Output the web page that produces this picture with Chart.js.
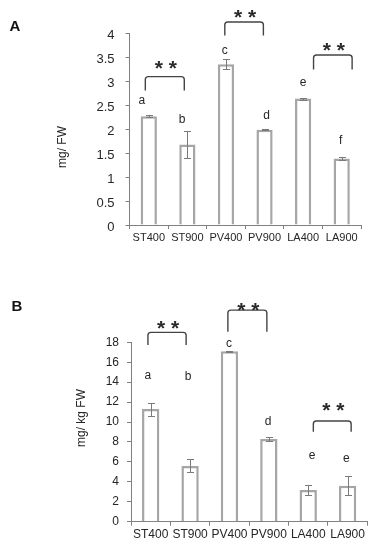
<!DOCTYPE html>
<html>
<head>
<meta charset="utf-8">
<script src="https://cdn.jsdelivr.net/npm/chart.js@4"></script>
<style>
html,body{margin:0;padding:0;background:#fff;}
#wrap{position:relative;width:376px;height:550px;overflow:hidden;}
canvas{position:absolute;left:0;}
</style>
</head>
<body>
<div id="wrap">
<canvas id="ca" width="376" height="265" style="top:0"></canvas>
<canvas id="cb" width="376" height="285" style="top:265px"></canvas>
</div>
<script>
// ---------- data ----------
const categories = ['ST400','ST900','PV400','PV900','LA400','LA900'];

// Panel A (mg/ FW)
const valuesA = [2.27, 1.68, 3.36, 1.99, 2.64, 1.39];
const errorsA = [0.02, 0.28, 0.10, 0.01, 0.02, 0.03];
const lettersA = ['a','b','c','d','e','f'];
const letterXA = [-0.18, 0.86, 1.97, 3.05, 4.0, 4.97];
const letterYA = [2.59, 2.21, 3.65, 2.28, 2.97, 1.77];
// [from, to, top, bottom, starsY]
const bracketsA = [
  [-0.09, 0.92, 3.10, 2.81, 3.39],
  [1.97, 2.97, 4.24, 3.96, 4.45],
  [4.27, 5.27, 3.55, 3.25, 3.77]
];
const yTicksA = [0, 0.5, 1, 1.5, 2, 2.5, 3, 3.5, 4];

// Panel B (mg/ kg FW)
const valuesB = [11.3, 5.6, 17.1, 8.29, 3.19, 3.6];
const errorsB = [0.65, 0.65, 0.05, 0.2, 0.5, 0.95];
const lettersB = ['a','b','c','d','e','e'];
const letterXB = [-0.07, 0.95, 1.99, 2.98, 4.1, 4.97];
const letterYB = [14.66, 14.5, 17.85, 10.06, 6.6, 6.36];
const bracketsB = [
  [-0.07, 0.9, 19.0, 17.73, 19.96],
  [1.96, 2.95, 21.23, 19.06, 21.74],
  [4.13, 5.09, 10.1, 9.03, 11.7]
];
const yTicksB = [0, 2, 4, 6, 8, 10, 12, 14, 16, 18];

// ---------- drawing ----------
const FONT = "'Liberation Sans', Arial, Helvetica, sans-serif";
const AXIS = '#808080';
const TEXT = '#262626';

function annotPlugin(cfg){
  return {
    id: 'annot',
    afterDatasetsDraw(chart){
      const ctx = chart.ctx, xs = chart.scales.x, ys = chart.scales.y;
      ctx.save();
      // error bars
      ctx.strokeStyle = '#7a7a7a';
      ctx.lineWidth = 1;
      cfg.values.forEach((v, i) => {
        const x = Math.round(xs.getPixelForValue(i)) + 0.5;
        const y1 = Math.round(ys.getPixelForValue(v + cfg.errors[i])) + 0.5;
        const y2 = Math.round(ys.getPixelForValue(v - cfg.errors[i])) + 0.5;
        ctx.beginPath();
        ctx.moveTo(x, y1); ctx.lineTo(x, y2);
        ctx.moveTo(x - 3.5, y1); ctx.lineTo(x + 3.5, y1);
        ctx.moveTo(x - 3.5, y2); ctx.lineTo(x + 3.5, y2);
        ctx.stroke();
      });
      // letters
      ctx.fillStyle = TEXT;
      ctx.font = '12px ' + FONT;
      ctx.textAlign = 'center';
      ctx.textBaseline = 'middle';
      cfg.letters.forEach((t, i) => {
        ctx.fillText(t, xs.getPixelForValue(cfg.letterX[i]), ys.getPixelForValue(cfg.letterY[i]));
      });
      // brackets
      ctx.strokeStyle = '#444';
      ctx.lineWidth = 1.4;
      const r = 3;
      cfg.brackets.forEach(b => {
        const x1 = xs.getPixelForValue(b[0]), x2 = xs.getPixelForValue(b[1]);
        const yt = ys.getPixelForValue(b[2]), yb = ys.getPixelForValue(b[3]);
        ctx.beginPath();
        ctx.moveTo(x1, yb);
        ctx.lineTo(x1, yt + r);
        ctx.arcTo(x1, yt, x1 + r, yt, r);
        ctx.lineTo(x2 - r, yt);
        ctx.arcTo(x2, yt, x2, yt + r, r);
        ctx.lineTo(x2, yb);
        ctx.stroke();
        const ys2 = ys.getPixelForValue(b[4]);
        ctx.font = 'bold 21px ' + FONT;
        ctx.textBaseline = 'alphabetic';
        ctx.fillStyle = '#2a2a2a';
        ctx.fillText('* *', (x1 + x2) / 2 + 1, ys2 + 12);
      });
      // axis title
      ctx.fillStyle = TEXT;
      ctx.font = '12px ' + FONT;
      ctx.textBaseline = 'middle';
      ctx.translate(cfg.titleX, cfg.titleY);
      ctx.rotate(-Math.PI / 2);
      ctx.fillText(cfg.title, 0, 0);
      ctx.restore();
      // panel label
      ctx.save();
      ctx.fillStyle = '#111';
      ctx.font = 'bold 15px ' + FONT;
      ctx.textAlign = 'center';
      ctx.textBaseline = 'middle';
      ctx.fillText(cfg.panel, cfg.panelX, cfg.panelY);
      ctx.restore();
    }
  };
}

function makeChart(id, values, ticks, max, opts){
  return new Chart(document.getElementById(id), {
    type: 'bar',
    data: {
      labels: categories,
      datasets: [{
        data: values,
        backgroundColor: '#ffffff',
        borderColor: '#a6a6a6',
        borderWidth: 2.5,
        borderSkipped: 'bottom',
        barPercentage: opts.barPct,
        categoryPercentage: 1
      }]
    },
    options: {
      responsive: false,
      animation: false,
      events: [],
      layout: { padding: opts.padding },
      plugins: { legend: { display: false }, tooltip: { enabled: false } },
      scales: {
        x: {
          grid: { display: true, drawOnChartArea: false, tickLength: 4, color: AXIS, offset: true },
          border: { color: AXIS, width: 1 },
          ticks: { font: { family: FONT, size: opts.xFont }, color: TEXT, padding: 2, maxRotation: 0, autoSkip: false },
          afterFit(s){ s.height = opts.xHeight; }
        },
        y: {
          min: 0, max: max,
          afterBuildTicks(s){ s.ticks = ticks.map(v => ({ value: v })); },
          grid: { drawOnChartArea: false, tickLength: 4, color: AXIS },
          border: { color: AXIS, width: 1 },
          ticks: { font: { family: FONT, size: opts.yFont }, color: TEXT, padding: opts.yPad, labelOffset: opts.labelOffset, callback: v => String(v) },
          afterFit(s){ s.width = opts.yWidth; }
        }
      }
    },
    plugins: [annotPlugin(opts.annot)]
  });
}

makeChart('ca', valuesA, yTicksA, 4, {
  barPct: 0.42,
  padding: { left: 0, right: 15, top: 33.5, bottom: 0 },
  xFont: 11, xHeight: 40, yFont: 13, yPad: 11, labelOffset: 2, yWidth: 129.5,
  annot: { values: valuesA, errors: errorsA, letters: lettersA, letterX: letterXA, letterY: letterYA,
           brackets: bracketsA, title: 'mg/ FW', titleX: 62.5, titleY: 147, panel: 'A', panelX: 15, panelY: 27 }
});

makeChart('cb', valuesB, yTicksB, 18, {
  barPct: 0.44,
  padding: { left: 0, right: 8.7, top: 77.3, bottom: 0 },
  xFont: 12, xHeight: 28.3, yFont: 12, yPad: 8, labelOffset: 0, yWidth: 131,
  annot: { values: valuesB, errors: errorsB, letters: lettersB, letterX: letterXB, letterY: letterYB,
           brackets: bracketsB, title: 'mg/ kg FW', titleX: 82, titleY: 153, panel: 'B', panelX: 17, panelY: 42 }
});
</script>
</body>
</html>
